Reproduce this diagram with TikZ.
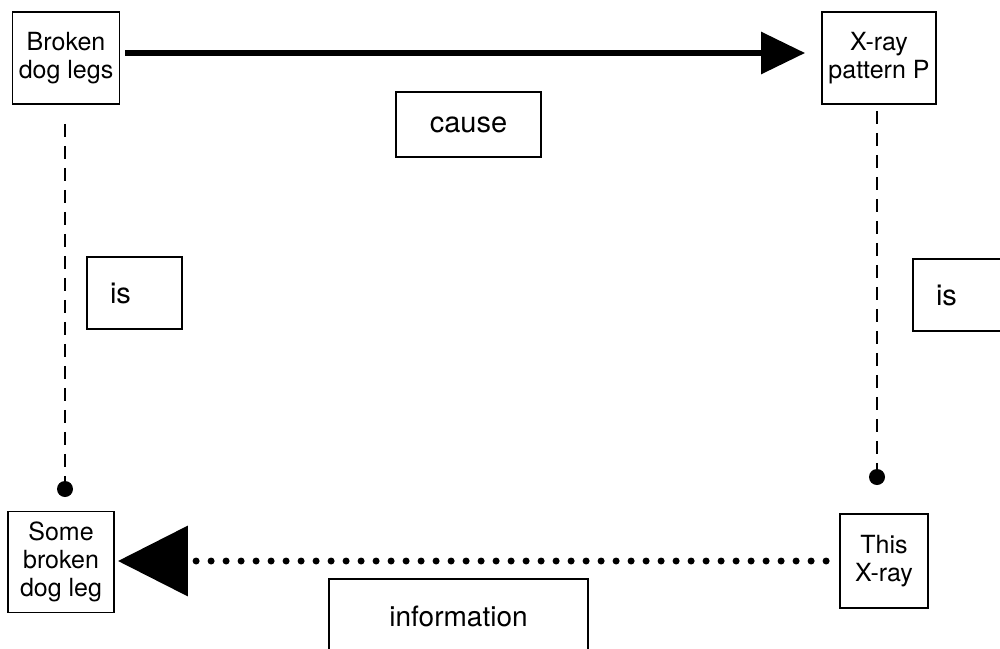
\documentclass[tikz,border=0pt]{standalone}
\usepackage{fontspec}
\setmainfont{TeX Gyre Heros}
\usetikzlibrary{arrows.meta,positioning}
\newcommand{\myunit}{0.5pt}
\tikzset{
    boxsty/.style={draw,line width=0.9pt,rectangle,inner sep=0pt,align=center,font=\fontsize{12.5}{14}\selectfont},
    labsty/.style={boxsty,font=\fontsize{14.5}{17}\selectfont},
    issty/.style={labsty,minimum height=36pt,text width=24.5pt,inner xsep=11.5pt,align=left},
    dotsty/.style={circle,fill,inner sep=0pt,minimum size=8pt},
    causesty/.style={line width=3pt,-{Triangle[length=22pt,width=20.5pt]}},
    infosty/.style={line width=3.5pt,line cap=round,dash pattern=on 0pt off 7.5pt,-{Triangle[length=35pt,width=34.5pt]}},
    dashsty/.style={line width=1.3pt,dash pattern=on 6.5pt off 4.5pt},
}

\begin{document}
\begin{tikzpicture}[x=\myunit,y=-\myunit]
  \clip (0,0) rectangle (1000,648);

  % corners
  \node[boxsty,minimum width=53.5pt,minimum height=46pt] (broken) at (66,58) {Broken\\dog legs};
  \node[boxsty,minimum width=57pt,minimum height=46pt] (xrayP) at (879,58) {X-ray\\pattern P};
  \node[boxsty,minimum width=53pt,minimum height=50.5pt] (some) at (61,562) {Some\\broken\\dog leg};
  \node[boxsty,minimum width=44pt,minimum height=47pt] (thisx) at (884,561) {This\\X-ray};

  % labels
  \node[labsty,minimum width=72.5pt,minimum height=32.5pt] (cause) at (468.5,124.5) {cause};
  \node[issty] (isL) at (134.5,293) {is};
  \node[issty] (isR) at (960.5,295) {is};
  \node[labsty,minimum width=129.5pt,minimum height=37.5pt,font=\fontsize{14}{17}\selectfont] (info) at (458.5,616.5) {information};

  \node[dotsty] (dotL) at (65,489) {};
  \node[dotsty] (dotR) at (877,477) {};

  \draw[causesty,shorten <=2.5pt,shorten >=8pt] ([yshift=2.5pt]broken.east) -- ([yshift=2.5pt]xrayP.west);
  \draw[dashsty] ([yshift=-9.5pt]broken.south -| dotL) -- (dotL);
  \draw[dashsty] ([yshift=-3pt]xrayP.south -| dotR) -- (dotR);
  \draw[infosty,shorten <=6.5pt,shorten >=1.5pt] (thisx.west) -- (some.east |- thisx.west);
\end{tikzpicture}
\end{document}
